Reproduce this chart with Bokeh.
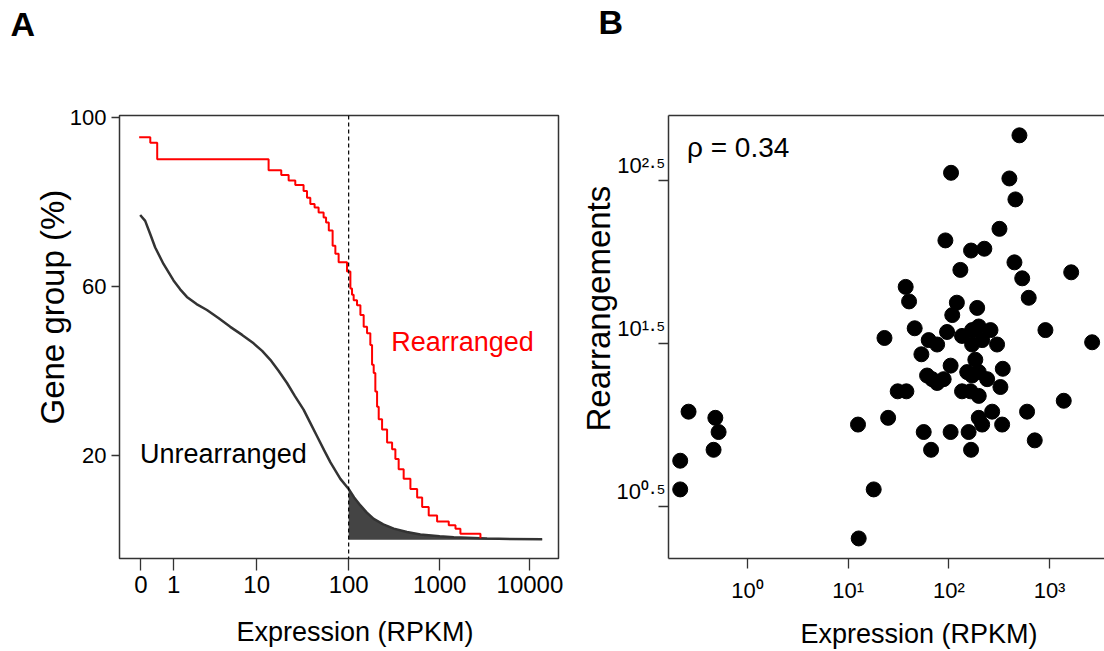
import numpy as np
from math import pi
from bokeh.plotting import figure
from bokeh.layouts import row
from bokeh.models import FixedTicker, Label, Span, CustomJSTickFormatter, LogAxis, Title
from bokeh.embed import file_html
from bokeh.resources import INLINE

FONT = "Liberation Sans"
H = 651

# ---------------- Panel A data ----------------
# x positions on the drawn expression axis (log10 RPKM scale; 0 RPKM drawn at the left end)
A_X_TICKS = [-0.28, 0.08, 0.99, 2.0, 3.0, 3.99]
A_X_LABELS = ["0", "1", "10", "100", "1000", "10000"]
A_Y_TICKS = [20, 60, 100]
A_Y_LABELS = ["20", "60", "100"]
THRESHOLD = 2.0  # 100 RPKM

unrearr_pos = [-0.289, -0.234, -0.179, -0.124, -0.033, 0.077, 0.15, 0.224, 0.33, 0.444,
               0.57, 0.70, 0.83, 0.956, 1.05, 1.14, 1.23, 1.323, 1.41, 1.505,
               1.58, 1.653, 1.73, 1.80, 1.909, 2.0, 2.06, 2.129, 2.2, 2.275,
               2.38, 2.495, 2.64, 2.788, 3.0, 3.154, 3.52, 4.125]
unrearr_pct = [76.9, 75.5, 72.4, 69.2, 65.3, 61.4, 59.3, 57.5, 55.8, 54.4,
               52.5, 50.4, 48.5, 46.5, 44.7, 42.6, 40.0, 37.1, 34.0, 30.8,
               27.6, 24.5, 21.2, 18.3, 14.4, 12.0, 10.0, 8.1, 6.4, 4.9,
               3.6, 2.6, 1.8, 1.2, 0.8, 0.54, 0.24, 0.07]

rearr_pos = [-0.300, -0.178, -0.102, 1.121, 1.260, 1.341, 1.414, 1.505, 1.543, 1.579,
             1.626, 1.670, 1.725, 1.752, 1.782, 1.824, 1.854, 1.890, 1.982, 2.019,
             2.037, 2.055, 2.092, 2.129, 2.165, 2.202, 2.238, 2.257, 2.275, 2.293,
             2.312, 2.330, 2.367, 2.422, 2.477, 2.513, 2.549, 2.604, 2.678, 2.752,
             2.807, 2.879, 2.971, 3.099, 3.173, 3.227, 3.447]
rearr_pct = [95.3, 94.0, 90.1, 87.5, 86.4, 85.1, 84.0, 82.6, 81.0, 79.5,
             78.7, 77.5, 76.3, 75.1, 73.2, 69.6, 67.7, 65.7, 63.5, 59.5,
             58.0, 56.7, 55.5, 53.2, 50.4, 48.9, 46.1, 41.4, 39.5, 35.1,
             31.5, 28.5, 26.1, 23.0, 21.4, 19.1, 16.7, 14.4, 12.0, 10.0,
             7.7, 5.7, 4.3, 3.4, 2.6, 1.4, 0.3]

# ---------------- Panel B data ----------------
expr_rpkm = [502, 105, 399, 458, 318, 92.3, 166, 225, 448, 130,
             1641, 535, 37.2, 40.2, 621, 120, 108, 191, 45.7, 910,
             22.9, 2649, 95.9, 63.0, 76.4, 135, 170, 198, 259, 301,
             53.3, 170, 214, 104, 183, 343, 60.7, 76.4, 68.1, 88.7,
             152, 170, 198, 240, 325, 135, 164, 198, 31.0, 37.8,
             1384, 598, 269, 198, 214, 157, 338, 104, 56.2, 713,
             166, 66.5, 24.9, 12.5, 17.9, 12.7, 0.259, 0.478, 0.515, 0.459,
             0.214, 0.214]
rearr_count = [596, 351, 324, 241, 159, 135, 117, 120, 99, 89,
               86, 79, 70, 57, 60, 56, 47, 52, 39, 38,
               34, 32, 37, 33, 31, 35, 38, 40, 38, 31,
               27, 31, 33, 23, 25, 22, 20, 18, 19, 19,
               21, 20, 21, 19, 17, 16, 16, 15, 16, 16,
               14, 12, 12, 11, 10, 9, 10, 9, 9, 8,
               7, 7, 11, 10, 4, 2, 12, 11, 9, 7,
               6, 4]
RHO_TEXT = "\u03c1 = 0.34"
B_X_TICKS = [1, 10, 100, 1000]
B_X_LABELS = ["10\u2070", "10\u00b9", "10\u00b2", "10\u00b3"]
B_Y_TICKS = [10 ** 0.5, 10 ** 1.5, 10 ** 2.5]
B_Y_LABELS = ["10\u2070\u00b7\u2075", "10\u00b9\u00b7\u2075", "10\u00b2\u00b7\u2075"]

AXIS_COLOR = "#333333"


def label_formatter(tick_values, tick_labels, suffix=""):
    return CustomJSTickFormatter(
        args=dict(tvals=list(tick_values), tlabels=list(tick_labels), suffix=suffix), code="""
        for (let i = 0; i < tvals.length; i++) {
            if (Math.abs(tick - tvals[i]) <= 1e-9 * Math.max(1, Math.abs(tvals[i]))) return tlabels[i] + suffix;
        }
        return "";
    """)


def spacer(standoff):
    return Title(text=" ", text_font_size="1px", standoff=standoff)


def style_axis(ax, tick_out, size, standoff):
    ax.major_tick_out = tick_out
    ax.major_tick_in = 0
    ax.minor_tick_line_color = None
    ax.major_tick_line_color = AXIS_COLOR
    ax.major_tick_line_width = 1.3
    ax.major_label_text_font = FONT
    ax.major_label_text_font_size = size
    ax.major_label_text_color = "black"
    ax.major_label_standoff = standoff


# ================= Panel A =================
pa = figure(width=570, height=H, x_range=(-0.516, 4.304), y_range=(-4.47, 100.47),
            output_backend="svg", toolbar_location=None,
            min_border_left=119, min_border_right=12, min_border_top=114, min_border_bottom=91)
pa.grid.visible = False
pa.outline_line_color = AXIS_COLOR
pa.outline_line_width = 1.5

xa = pa.xaxis[0]
xa.ticker = FixedTicker(ticks=A_X_TICKS)
xa.formatter = label_formatter(A_X_TICKS, A_X_LABELS)
xa.axis_line_color = None
style_axis(xa, 12, "24px", 5)
ya = pa.yaxis[0]
ya.ticker = FixedTicker(ticks=A_Y_TICKS)
ya.formatter = label_formatter(A_Y_TICKS, A_Y_LABELS)
ya.axis_line_color = None
style_axis(ya, 8, "22px", 5)

sh_x = [x for x in unrearr_pos if x >= THRESHOLD]
sh_y = [y for x, y in zip(unrearr_pos, unrearr_pct) if x >= THRESHOLD]
pa.varea(x=sh_x, y1=[0] * len(sh_x), y2=sh_y, fill_color="#444444")
pa.line(unrearr_pos, unrearr_pct, line_color="#333333", line_width=2.5)
pa.step(rearr_pos, rearr_pct, mode="after", line_color="#ff0000", line_width=2)
pa.add_layout(Span(location=THRESHOLD, dimension="height", line_color="black",
                   line_dash="4 3", line_width=1.2))

pa.add_layout(Label(x=-0.29, y=20.4, text="Unrearranged", text_font=FONT,
                    text_font_size="27px", text_color="black", text_align="left",
                    text_baseline="middle"))
pa.add_layout(Label(x=2.468, y=46.7, text="Rearranged", text_font=FONT,
                    text_font_size="27px", text_color="#ff0000", text_align="left",
                    text_baseline="middle"))

# axis titles and panel letter (outside the frame)
pa.add_layout(spacer(17), "below")
pa.add_layout(Title(text="Expression (RPKM)", text_font=FONT, text_font_size="27px",
                    text_font_style="normal", text_color="black", align="left", offset=117,
                    vertical_align="top", standoff=2), "below")
pa.add_layout(Title(text="Gene group (%)", text_font=FONT, text_font_size="33px",
                    text_font_style="normal", text_color="black", align="left", offset=134,
                    vertical_align="bottom", standoff=-8), "left")
pa.add_layout(spacer(68), "above")
pa.add_layout(Title(text="A", text_font=FONT, text_font_size="34px", text_font_style="bold",
                    text_color="black", align="left", offset=-109, vertical_align="top",
                    standoff=0), "above")

# ================= Panel B =================
pb = figure(width=534, height=H, x_axis_type="log", y_axis_type="log",
            x_range=(10 ** -0.786, 10 ** 3.546), y_range=(10 ** 0.178, 10 ** 2.897),
            output_backend="svg", toolbar_location=None,
            min_border_left=98, min_border_right=0, min_border_top=115, min_border_bottom=91)
pb.grid.visible = False
pb.outline_line_color = None

xb = pb.xaxis[0]
xb.ticker = FixedTicker(ticks=B_X_TICKS)
xb.formatter = label_formatter(B_X_TICKS, B_X_LABELS)
style_axis(xb, 10, "22px", 9)
yb = pb.yaxis[0]
yb.ticker = FixedTicker(ticks=B_Y_TICKS)
yb.formatter = label_formatter(B_Y_TICKS, B_Y_LABELS, suffix="\n")
style_axis(yb, 10, "22px", -7)
top_axis = LogAxis(ticker=FixedTicker(ticks=[]), formatter=label_formatter([], []))
style_axis(top_axis, 0, "1px", 0)
pb.add_layout(top_axis, "above")
for ax in (xb, yb, top_axis):
    ax.axis_line_color = AXIS_COLOR
    ax.axis_line_width = 1.5

pb.scatter(expr_rpkm, rearr_count, size=15, fill_color="black", line_color="black")

pb.add_layout(Label(x=0.25, y=500, text=RHO_TEXT, text_font=FONT,
                    text_font_size="28px", text_color="black", text_align="left",
                    text_baseline="middle"))

pb.add_layout(spacer(9), "below")
pb.add_layout(Title(text="Expression (RPKM)", text_font=FONT, text_font_size="27px",
                    text_font_style="normal", text_color="black", align="left", offset=132,
                    vertical_align="top", standoff=2), "below")
pb.add_layout(Title(text="Rearrangements", text_font=FONT, text_font_size="33px",
                    text_font_style="normal", text_color="black", align="left", offset=127,
                    vertical_align="bottom", standoff=-6), "left")
pb.add_layout(spacer(70), "above")
pb.add_layout(Title(text="B", text_font=FONT, text_font_size="34px", text_font_style="bold",
                    text_color="black", align="left", offset=-70, vertical_align="top",
                    standoff=0), "above")

layout = row(pa, pb)
open("out.html", "w").write(file_html(layout, INLINE))
